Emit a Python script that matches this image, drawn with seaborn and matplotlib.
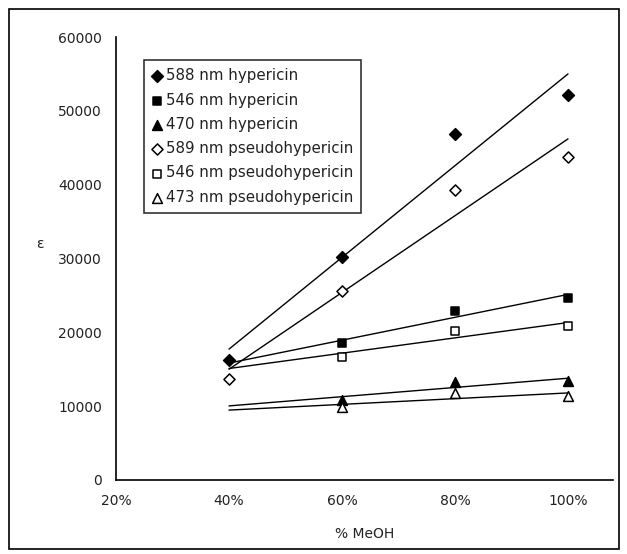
import numpy as np
import pandas as pd
import matplotlib
matplotlib.use("Agg")
import matplotlib.pyplot as plt
from matplotlib.patches import Rectangle
import seaborn as sns

# Data (x = fraction MeOH, y = molar absorptivity)
x_four = [0.4, 0.6, 0.8, 1.0]
x_three = [0.6, 0.8, 1.0]

hyp_588 = [16250, 30250, 46800, 52150]
hyp_546 = [18500, 22900, 24700]
hyp_470 = [10900, 13300, 13400]
pseudo_589 = [13700, 25600, 39300, 43800]
pseudo_546 = [16700, 20200, 20850]
pseudo_473 = [9850, 11800, 11400]

labels = ["588 nm hypericin", "546 nm hypericin", "470 nm hypericin",
          "589 nm pseudohypericin", "546 nm pseudohypericin", "473 nm pseudohypericin"]
xs = [x_four, x_three, x_three, x_four, x_three, x_three]
ys = [hyp_588, hyp_546, hyp_470, pseudo_589, pseudo_546, pseudo_473]
markers = ["D", "s", "^", "D", "s", "^"]
fills = ["black", "black", "black", "white", "white", "white"]
sizes = [36, 40, 50, 32, 38, 50]

sns.set_style("white")
plt.rcParams["font.family"] = ["DejaVu Sans"]
plt.rcParams["font.size"] = 10

fig = plt.figure(figsize=(6.27, 5.54), dpi=100)
ax = fig.add_axes([0.185, 0.1336, 0.793, 0.7996])

# trendlines (least squares), spanning 40%..100%
x_all = np.concatenate([np.array(v) for v in xs])
line_x = np.array([x_all.min(), x_all.max()])
for x, y in zip(xs, ys):
    k, b = np.polyfit(x, y, 1)
    sns.lineplot(x=line_x, y=k * line_x + b, color="black", linewidth=1.0, ax=ax)

for x, y, lab, m, fc, s in zip(xs, ys, labels, markers, fills, sizes):
    df = pd.DataFrame({"x": x, "y": y})
    sns.scatterplot(data=df, x="x", y="y", marker=m, s=s, color=fc,
                    edgecolor="black", linewidth=1.1, label=lab, ax=ax, zorder=3)

ax.set_xlim(0.2, 1.08)
ax.set_ylim(0, 60000)
ax.set_xticks([0.2, 0.4, 0.6, 0.8, 1.0])
ax.set_xticklabels(["20%", "40%", "60%", "80%", "100%"])
ax.set_yticks(range(0, 60001, 10000))
ax.set_yticklabels([str(v) for v in range(0, 60001, 10000)])
ax.tick_params(axis="both", direction="out", length=4, width=1.0, colors="black",
               labelcolor="#222222", labelsize=10)
ax.tick_params(axis="y", pad=6)
ax.tick_params(axis="x", pad=6)
sns.despine(ax=ax)
for sp in ["left", "bottom"]:
    ax.spines[sp].set_linewidth(1.2)
    ax.spines[sp].set_color("black")

ax.set_xlabel("% MeOH", color="#222222", fontsize=10, labelpad=14)
ax.set_ylabel("ε", rotation=0, color="#222222", fontsize=10)
ax.yaxis.set_label_coords(-0.153, 0.517)

leg = ax.legend(loc="upper left", bbox_to_anchor=(0.056, 0.948), frameon=True,
                fancybox=False, edgecolor="black", fontsize=10.8, handlelength=0.6,
                handletextpad=0.3, labelspacing=0.62, borderpad=0.55, borderaxespad=0)
leg.get_frame().set_linewidth(1.2)
for t in leg.get_texts():
    t.set_color("#222222")

fig.patches.append(Rectangle((9 / 627, 5 / 554), 610 / 627, 540 / 554, transform=fig.transFigure,
                             fill=False, edgecolor="black", linewidth=1.2))

fig.savefig("out.png", dpi=100)
